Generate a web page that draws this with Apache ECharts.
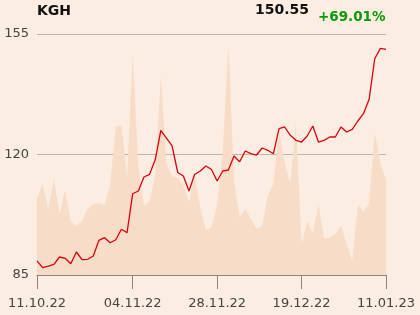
<!DOCTYPE html>
<html>
<head>
<meta charset="utf-8">
<script src="https://cdn.jsdelivr.net/npm/echarts@6/dist/echarts.min.js"></script>
<style>
html,body{margin:0;padding:0;background:#fbede1;}
#c{width:420px;height:315px;}
</style>
</head>
<body>
<div id="c"></div>
<script>
const dates = [
 "11.10.22","12.10.22","13.10.22","14.10.22","17.10.22","18.10.22","19.10.22","20.10.22","21.10.22","24.10.22",
 "25.10.22","26.10.22","27.10.22","28.10.22","31.10.22","02.11.22","03.11.22","04.11.22","07.11.22","08.11.22",
 "09.11.22","10.11.22","14.11.22","15.11.22","16.11.22","17.11.22","18.11.22","21.11.22","22.11.22","23.11.22",
 "24.11.22","25.11.22","28.11.22","29.11.22","30.11.22","01.12.22","02.12.22","05.12.22","06.12.22","07.12.22",
 "08.12.22","09.12.22","12.12.22","13.12.22","14.12.22","15.12.22","16.12.22","19.12.22","20.12.22","21.12.22",
 "22.12.22","23.12.22","27.12.22","28.12.22","29.12.22","30.12.22","02.01.23","03.01.23","04.01.23","05.01.23",
 "09.01.23","10.01.23","11.01.23"
];
const tickLabels = ["11.10.22","04.11.22","28.11.22","19.12.22","11.01.23"];
const price = [
 89.08,87.12,87.61,88.11,90.23,89.85,88.28,91.68,89.44,89.56,
 90.52,95.08,95.83,94.38,95.25,98.27,97.29,108.61,109.40,113.46,
 114.25,118.46,127.03,124.79,122.47,114.77,113.75,109.40,114.19,115.21,
 116.66,115.64,112.30,115.21,115.50,119.56,117.91,121.02,120.23,119.85,
 121.89,121.22,120.23,127.49,127.99,125.58,124.12,123.63,125.37,128.28,
 123.63,124.12,125.08,125.08,127.99,126.53,127.32,129.73,131.85,136.03,
 147.82,150.84,150.55
];
const volume = [
 77,91,66,96,61,85,53,49,54,66,
 71,72,70,91,148,150,97,221,109,69,
 74,99,199,111,99,97,90,73,100,68,
 45,48,69,124,231,94,58,66,56,46,
 49,79,91,143,112,91,152,31,54,42,
 71,37,37,41,49,32,14,70,63,72,
 142,112,95
];
const yTicks = [85,120,155];
const ticker = "KGH";
const lastPrice = "150.55";
const change = "+69.01%";

const chart = echarts.init(document.getElementById('c'), null, {renderer:'canvas'});
const font = 'DejaVu Sans';
chart.setOption({
  backgroundColor:'#fbede1',
  animation:false,
  title:[
    {text:ticker,left:37,top:4,padding:0,textStyle:{fontFamily:font,fontSize:14,fontWeight:'bold',color:'#111'}},
    {text:lastPrice,left:255,top:3,padding:0,textStyle:{fontFamily:font,fontSize:14,fontWeight:'bold',color:'#111'}},
    {text:change,left:318,top:10,padding:0,textStyle:{fontFamily:font,fontSize:13.5,fontWeight:'bold',color:'#0a9a0a'}}
  ],
  grid:{left:37,right:34,top:34,bottom:40,containLabel:false},
  xAxis:{
    type:'category',data:dates,boundaryGap:false,
    axisLine:{lineStyle:{color:'#8a8580',width:1}},
    axisTick:{show:true,length:14,lineStyle:{color:'#8a8580'},
      interval:(i,v)=>tickLabels.includes(v)},
    axisLabel:{fontFamily:font,fontSize:13,color:'#444',margin:22,
      interval:(i,v)=>tickLabels.includes(v)},
    splitLine:{show:false}
  },
  yAxis:[
    {type:'value',min:yTicks[0],max:yTicks[2],interval:35,
     axisLine:{show:false},axisTick:{show:false},
     axisLabel:{fontFamily:font,fontSize:13,color:'#444',margin:8},
     splitLine:{lineStyle:{color:'#bdb4ac',width:1}}},
    {type:'value',min:0,max:241,show:false,splitLine:{show:false}}
  ],
  series:[
    {type:'line',yAxisIndex:1,data:volume,symbol:'none',
     lineStyle:{width:0},areaStyle:{color:'#f7dcc7',opacity:1},z:1},
    {type:'line',yAxisIndex:0,data:price,symbol:'none',
     lineStyle:{color:'#d9000f',width:1.3},z:3}
  ]
});
</script>
</body>
</html>
